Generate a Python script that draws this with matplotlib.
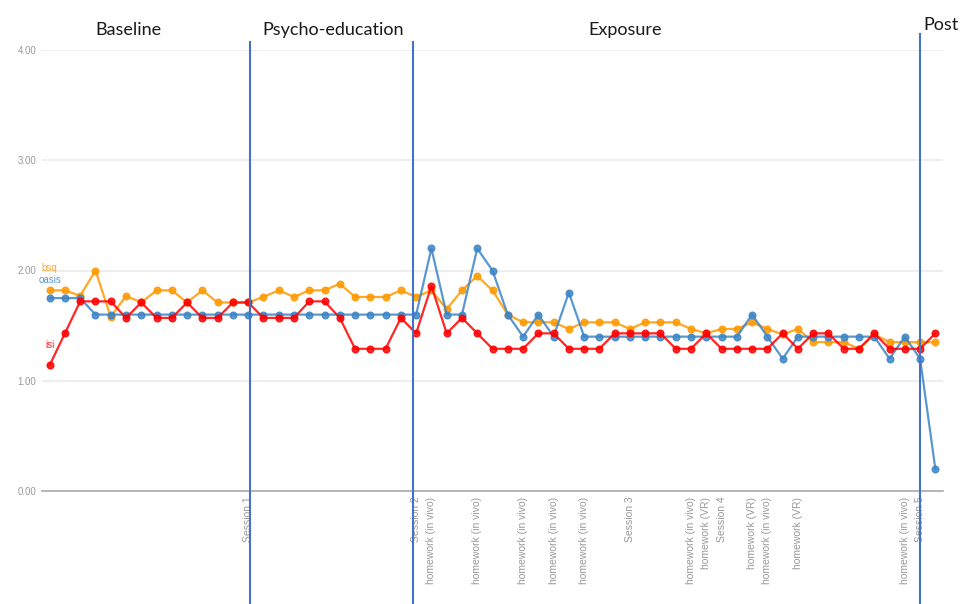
import numpy as np
import matplotlib
matplotlib.use('Agg')
from matplotlib import pyplot as plt

# category labels along x (blank ones carry no text)
categories = [''] * 59
named = {13: 'Session 1', 24: 'Session 2', 25: 'homework (in vivo)',
         28: 'homework (in vivo)', 31: 'homework (in vivo)', 33: 'homework (in vivo)',
         35: 'homework (in vivo)', 38: 'Session 3', 42: 'homework (in vivo)',
         43: 'homework (VR)', 44: 'Session 4', 46: 'homework (VR)',
         47: 'homework (in vivo)', 49: 'homework (VR)', 56: 'homework (in vivo)',
         57: 'Session 5'}
for k, v in named.items():
    categories[k] = v

bsq = [1.82, 1.82, 1.77, 2.00, 1.58, 1.77, 1.71, 1.82, 1.82, 1.71,
       1.82, 1.71, 1.71, 1.71, 1.76, 1.82, 1.76, 1.82, 1.82, 1.88,
       1.76, 1.76, 1.76, 1.82, 1.76, 1.82, 1.65, 1.82, 1.95, 1.82,
       1.60, 1.53, 1.53, 1.53, 1.47, 1.53, 1.53, 1.53, 1.47, 1.53,
       1.53, 1.53, 1.47, 1.43, 1.47, 1.47, 1.53, 1.47, 1.42, 1.47,
       1.35, 1.35, 1.35, 1.29, 1.42, 1.35, 1.35, 1.35, 1.35]
oasis = [1.75, 1.75, 1.75, 1.60, 1.60, 1.60, 1.60, 1.60, 1.60, 1.60,
         1.60, 1.60, 1.60, 1.60, 1.60, 1.60, 1.60, 1.60, 1.60, 1.60,
         1.60, 1.60, 1.60, 1.60, 1.60, 2.20, 1.60, 1.60, 2.20, 2.00,
         1.60, 1.40, 1.60, 1.40, 1.80, 1.40, 1.40, 1.40, 1.40, 1.40,
         1.40, 1.40, 1.40, 1.40, 1.40, 1.40, 1.60, 1.40, 1.20, 1.40,
         1.40, 1.40, 1.40, 1.40, 1.40, 1.20, 1.40, 1.20, 0.20]
isi = [1.14, 1.43, 1.72, 1.72, 1.72, 1.57, 1.71, 1.57, 1.57, 1.71,
       1.57, 1.57, 1.71, 1.71, 1.57, 1.57, 1.57, 1.72, 1.72, 1.57,
       1.29, 1.29, 1.29, 1.57, 1.43, 1.86, 1.43, 1.57, 1.43, 1.29,
       1.29, 1.29, 1.43, 1.43, 1.29, 1.29, 1.29, 1.43, 1.43, 1.43,
       1.43, 1.29, 1.29, 1.43, 1.29, 1.29, 1.29, 1.29, 1.43, 1.29,
       1.43, 1.43, 1.29, 1.29, 1.43, 1.29, 1.29, 1.29, 1.43]

series = [('bsq', bsq, '#ff9900', 16.0), ('oasis', oasis, '#3d85c6', 13.0),
          ('isi', isi, '#ff0000', 14.5)]

phase_lines = [13.1, 23.8, 57.0]
phases = [('Baseline', 0.133, 0.950), ('Psycho-education', 0.346, 0.950),
          ('Exposure', 0.649, 0.950), ('Post', 0.977, 0.958)]

fig = plt.figure(figsize=(9.63, 6.04), dpi=100)
ax = fig.add_axes([42 / 963, 113 / 604, 901 / 963, 441 / 604])

x = np.arange(len(categories))
for name, vals, col, off in series:
    ax.plot(x, vals, color=col, lw=1.6, marker='o', ms=4.8, alpha=0.85, zorder=3)
    ax.annotate(name, (x[0], vals[0]), xytext=(0, off), textcoords='offset points',
                ha='center', va='center', color=col, fontsize=7, alpha=0.85,
                family='Liberation Sans')

ax.set_xlim(-0.5, len(categories) - 0.5)
ax.set_ylim(0, 4)
ax.set_yticks([0, 1, 2, 3, 4])
ax.set_yticklabels(['%.2f' % v for v in [0, 1, 2, 3, 4]], color='#999999',
                   fontsize=7, family='Liberation Sans')
ax.set_xticks(x)
ax.set_xticklabels(categories, rotation=90, color='#999999', fontsize=7.5,
                   family='Liberation Sans', va='top')
ax.tick_params(length=0, pad=4)
ax.grid(axis='y', color='#ebebeb', lw=1.2)
ax.set_axisbelow(True)
for s in ['top', 'right', 'left']:
    ax.spines[s].set_visible(False)
ax.spines['bottom'].set_color('#aaaaaa')
ax.spines['bottom'].set_linewidth(1.2)

tops = [1.018, 1.018, 1.036]
for px, top in zip(phase_lines, tops):
    ax.axvline(px, ymin=-0.26, ymax=top, color='#4472c4', lw=1.5, clip_on=False, zorder=4)

for label, fx, fy in phases:
    fig.text(fx, fy, label, ha='center', va='center', fontsize=13, family='Lato',
             color='#1a1a1a')

fig.savefig('out.png', dpi=100)
plt.close(fig)
